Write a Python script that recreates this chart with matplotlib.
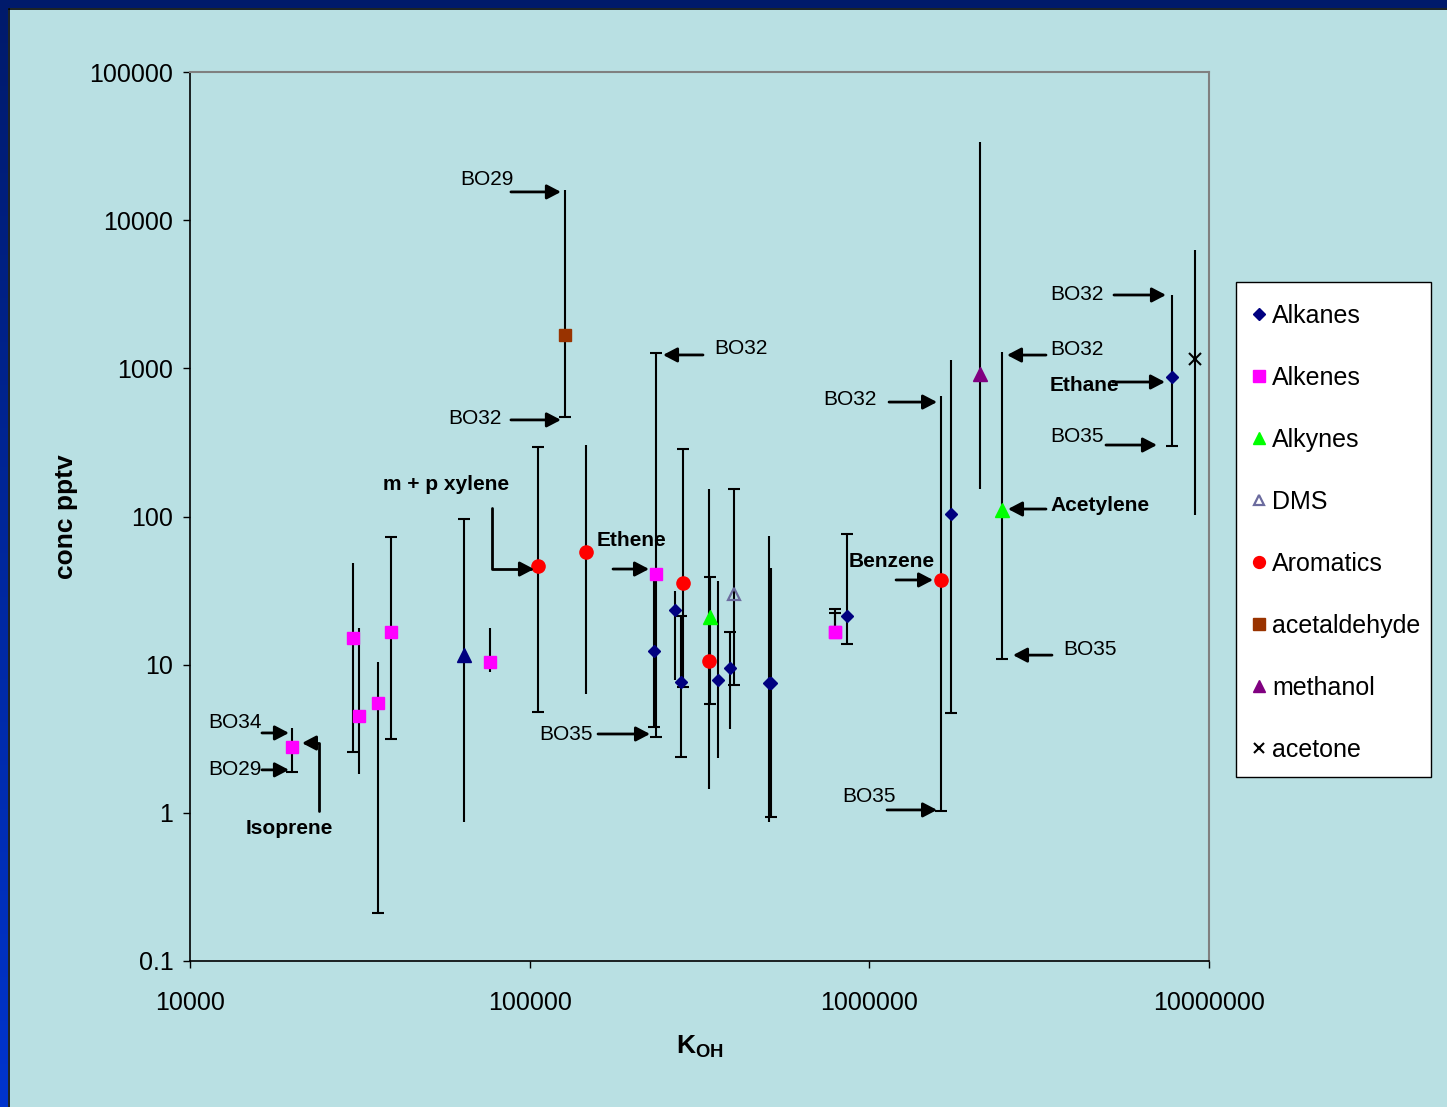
import matplotlib
matplotlib.use("Agg")
import matplotlib.pyplot as plt
import matplotlib.transforms as mtransforms
import numpy as np
from matplotlib.patches import Rectangle
from matplotlib.lines import Line2D
from matplotlib.ticker import FixedLocator, FuncFormatter, NullLocator

plt.rcParams['font.family'] = ['Liberation Sans', 'DejaVu Sans']
plt.rcParams['mathtext.fontset'] = 'custom'
plt.rcParams['mathtext.rm'] = 'Liberation Sans'
plt.rcParams['mathtext.bf'] = 'Liberation Sans:bold'

BG = '#b9e0e3'

# K_OH, median conc (pptv), lower / upper end of range, which ends carry a cap
alkanes_k = [232300, 267900, 279000, 358500, 389000, 506500, 513400, 859700, 1740000, 7780000]
alkanes_c = [12.4, 23.4, 7.64, 7.88, 9.5, 7.52, 7.5, 21.3, 104, 874]
alkanes_lo = [3.8, 7.88, 2.38, 2.35, 3.68, 0.867, 0.937, 13.8, 4.72, 299]
alkanes_hi = [40.9, 31.4, 21.3, 36.7, 16.6, 73.9, 44.9, 76.2, 1138, 3126]
alkanes_cap = ['lo', '', 'both', '', 'hi', '', 'lo', 'both', 'lo', 'lo']

other_k = [64080]
other_c = [11.6]
other_lo = [0.867]
other_hi = [96.2]
other_cap = ['hi']

alkenes_k = [19960, 30200, 31450, 35780, 39070, 76400, 235500, 792300, 792300]
alkenes_c = [2.78, 15.1, 4.51, 5.51, 16.6, 10.4, 40.9, 16.6, 16.6]
alkenes_lo = [1.89, 2.58, 1.83, 0.211, 3.15, 8.93, 3.25, 16.0, 16.0]
alkenes_hi = [3.74, 48.5, 17.7, 10.4, 72.8, 17.7, 1270, 23.8, 22.3]
alkenes_cap = ['lo', 'lo', '', 'lo', 'both', '', 'both', 'hi', 'hi']

alkynes_k = [339600, 2458000]
alkynes_c = [21.0, 110.6]
alkynes_lo = [5.43, 10.9]
alkynes_hi = [39.1, 1288]
alkynes_cap = ['both', 'lo']

dms_k = [399700]
dms_c = [30.0]
dms_lo = [7.29]
dms_hi = [153]
dms_cap = ['both']

arom_k = [105800, 146500, 282800, 337300, 1626000]
arom_c = [46.3, 57.6, 35.6, 10.6, 37.3]
arom_lo = [4.8, 6.34, 7.06, 1.45, 1.03]
arom_hi = [294, 304, 285, 153, 650]
arom_cap = ['both', '', 'both', '', 'lo']

acetald_k = [127000]
acetald_c = [1679]
acetald_lo = [470]
acetald_hi = [16000]
acetald_cap = ['lo']

methanol_k = [2117000]
methanol_c = [916]
methanol_lo = [153]
methanol_hi = [33700]
methanol_cap = ['']

acetone_k = [9096000]
acetone_c = [1156]
acetone_lo = [102]
acetone_hi = [6290]
acetone_cap = ['']

fig = plt.figure(figsize=(14.47, 11.07), dpi=100, facecolor=BG)

# slide frame: navy band on top, blue gradient down the left side
fig.patches.append(Rectangle((0, 1 - 8 / 1107), 1, 8 / 1107, transform=fig.transFigure,
                             facecolor='#001a6b', edgecolor='none', zorder=0))
side = fig.add_axes([0, 0, 8 / 1447, 1])
grad = np.linspace(0, 1, 256)[:, None]
top_c = np.array([0, 26, 107]) / 255
bot_c = np.array([0, 52, 206]) / 255
side.imshow((top_c + grad[:, :, None] * (bot_c - top_c)), aspect='auto')
side.axis('off')
fig.lines.append(Line2D([8.5 / 1447, 8.5 / 1447], [0, 1 - 8.5 / 1107], transform=fig.transFigure,
                        color='black', lw=1.2))
fig.lines.append(Line2D([8.5 / 1447, 1], [1 - 8.5 / 1107, 1 - 8.5 / 1107], transform=fig.transFigure,
                        color='black', lw=1.2))

ax = fig.add_axes([190 / 1447, 1 - 961 / 1107, 1019 / 1447, 889 / 1107])
ax.set_facecolor(BG)
ax.set_xscale('log')
ax.set_yscale('log')
ax.set_xlim(1e4, 1e7)
ax.set_ylim(0.1, 1e5)


def draw(k, c, lo, hi, caps, label, **style):
    ax.vlines(k, lo, hi, color='black', lw=1.5, zorder=2)
    cx = [x for x, e in zip(k, caps) if e in ('lo', 'both')] + \
         [x for x, e in zip(k, caps) if e in ('hi', 'both')]
    cy = [v for v, e in zip(lo, caps) if e in ('lo', 'both')] + \
         [v for v, e in zip(hi, caps) if e in ('hi', 'both')]
    ax.plot(cx, cy, ls='none', marker='_', ms=8.5, mew=1.5, color='black', zorder=2)
    ax.plot(k, c, ls='none', label=label, zorder=3, **style)


draw(alkanes_k, alkanes_c, alkanes_lo, alkanes_hi, alkanes_cap, 'Alkanes',
     marker='D', color='#000080', ms=6.5, mec='#000080')
draw(alkenes_k, alkenes_c, alkenes_lo, alkenes_hi, alkenes_cap, 'Alkenes',
     marker='s', color='#ff00ff', ms=9)
draw(alkynes_k, alkynes_c, alkynes_lo, alkynes_hi, alkynes_cap, 'Alkynes',
     marker='^', color='#00ff00', ms=9.5)
draw(dms_k, dms_c, dms_lo, dms_hi, dms_cap, 'DMS',
     marker='^', mfc='none', mec='#6b6b9e', mew=1.6, ms=8.5)
draw(arom_k, arom_c, arom_lo, arom_hi, arom_cap, 'Aromatics',
     marker='o', color='#ff0000', ms=9.5)
draw(acetald_k, acetald_c, acetald_lo, acetald_hi, acetald_cap, 'acetaldehyde',
     marker='s', color='#993300', ms=9)
draw(methanol_k, methanol_c, methanol_lo, methanol_hi, methanol_cap, 'methanol',
     marker='^', color='#800080', ms=9.5)
draw(acetone_k, acetone_c, acetone_lo, acetone_hi, acetone_cap, 'acetone',
     marker='x', color='black', ms=8, mew=1.5)
draw(other_k, other_c, other_lo, other_hi, other_cap, '_nolegend_',
     marker='^', color='#000080', ms=9.5)


def offs(dx, dy):
    # shift in pixels, y measured downwards
    return mtransforms.offset_copy(ax.transData, fig=fig, x=dx, y=-dy, units='dots')


def note(x, y, text, tail, tip, pos, bold=False, ha='center', elbow=False):
    conn = 'angle,angleA=90,angleB=0,rad=0' if elbow else 'arc3'
    ax.annotate('', xy=(x, y), xycoords=offs(*tip), xytext=(x, y), textcoords=offs(*tail),
                arrowprops=dict(arrowstyle='-|>,head_length=0.42,head_width=0.22',
                                color='black', lw=2, shrinkA=0, shrinkB=0,
                                mutation_scale=20, connectionstyle=conn), zorder=4)
    ax.text(x, y, text, transform=offs(*pos), ha=ha, va='center', fontsize=15,
            fontweight='bold' if bold else 'normal', zorder=4)


# acetaldehyde
note(acetald_k[0], acetald_hi[0], 'BO29', (-54, 2), (-4, 2), (-78, -10))
note(acetald_k[0], acetald_lo[0], 'BO32', (-54, 3), (-4, 3), (-90, 2))
# ethene
note(alkenes_k[6], alkenes_hi[6], 'BO32', (47, 2), (7, 2), (58, -4), ha='left')
note(alkenes_k[6], alkenes_c[6], 'Ethene', (-43, -5), (-7, -5), (-25, -34), bold=True)
note(alkenes_k[6], alkenes_lo[6], 'BO35', (-58, -3), (-6, -3), (-90, -2))
# m + p xylene
note(arom_k[0], arom_c[0], 'm + p xylene', (-46, -58), (-4, 3), (-92, -82), bold=True, elbow=True)
# isoprene
note(alkenes_k[0], alkenes_hi[0], 'BO34', (-30, 5), (-3, 5), (-57, -5))
note(alkenes_k[0], alkenes_lo[0], 'BO29', (-30, -2), (-3, -2), (-57, -2))
note(alkenes_k[0], alkenes_c[0], 'Isoprene', (27, 64), (10, -4), (-3, 81), bold=True, elbow=True)
# benzene
note(arom_k[4], arom_hi[4], 'BO32', (-52, 6), (-4, 6), (-91, 3))
note(arom_k[4], arom_c[4], 'Benzene', (-45, 0), (-8, 0), (-49, -18), bold=True)
note(arom_k[4], arom_lo[4], 'BO35', (-54, -1), (-4, -1), (-72, -14))
# ethane
note(alkanes_k[9], alkanes_hi[9], 'BO32', (-58, 0), (-6, 0), (-122, 0), ha='left')
note(alkanes_k[9], alkanes_c[9], 'Ethane', (-59, 5), (-7, 5), (-122, 9), bold=True, ha='left')
note(alkanes_k[9], alkanes_lo[9], 'BO35', (-66, -1), (-15, -1), (-122, -10), ha='left')
# acetylene
note(alkynes_k[1], alkynes_hi[1], 'BO32', (44, 3), (5, 3), (48, -3), ha='left')
note(alkynes_k[1], alkynes_c[1], 'Acetylene', (44, -1), (6, -1), (48, -5), bold=True, ha='left')
note(alkynes_k[1], alkynes_lo[1], 'BO35', (50, -4), (11, -4), (61, -10), ha='left')

ax.xaxis.set_major_locator(FixedLocator([1e4, 1e5, 1e6, 1e7]))
ax.yaxis.set_major_locator(FixedLocator([0.1, 1, 10, 100, 1000, 1e4, 1e5]))
ax.xaxis.set_minor_locator(NullLocator())
ax.yaxis.set_minor_locator(NullLocator())
fmt = FuncFormatter(lambda v, _: f'{v:.10g}')
ax.xaxis.set_major_formatter(fmt)
ax.yaxis.set_major_formatter(fmt)
ax.tick_params(axis='both', direction='out', length=5, width=1, labelsize=18, colors='black')
ax.tick_params(axis='x', pad=16.5)
ax.tick_params(axis='y', pad=7)

for s in ('top', 'right'):
    ax.spines[s].set_color('#808080')
    ax.spines[s].set_linewidth(1.5)
for s in ('left', 'bottom'):
    ax.spines[s].set_color('black')
    ax.spines[s].set_linewidth(1.2)

ax.set_ylabel('conc pptv', fontsize=19, fontweight='bold')
ax.yaxis.set_label_coords(-0.110, 0.5)
ax.set_xlabel(r'$\mathbf{K}_{\mathbf{OH}}$', fontsize=19)
ax.xaxis.set_label_coords(0.5005, -0.081)

# legend box drawn on its own so the padding around the entries can be set freely
ax.add_patch(Rectangle((1236 / 1447, 1 - 777 / 1107), 195 / 1447, 495 / 1107,
                       transform=fig.transFigure, facecolor='white', edgecolor='black',
                       lw=1, clip_on=False, zorder=4.5))
leg = ax.legend(loc='upper left', bbox_to_anchor=(1232 / 1447, 1 - 282 / 1107),
                bbox_transform=fig.transFigure, borderaxespad=0, frameon=False,
                fontsize=18, handlelength=0.4, handletextpad=0.34, labelspacing=1.52,
                borderpad=0.86, markerscale=0.9, numpoints=1)
leg.set_zorder(5)

fig.savefig('out.png', dpi=100, facecolor=BG)
